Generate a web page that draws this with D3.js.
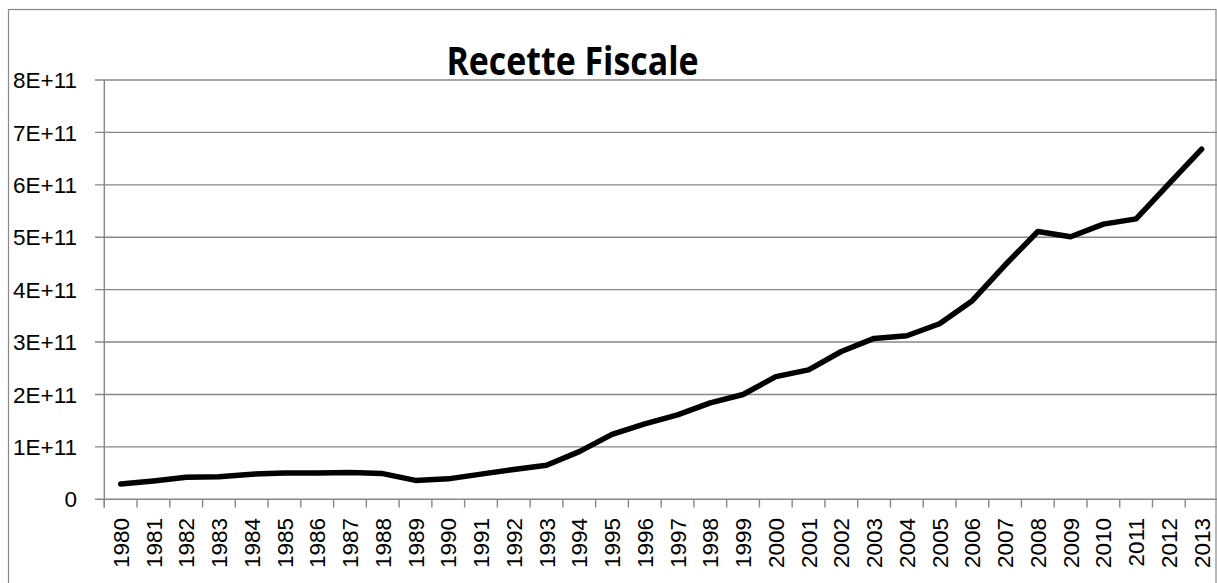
<!DOCTYPE html>
<html>
<head>
<meta charset="utf-8">
<script src="https://cdn.jsdelivr.net/npm/d3@7"></script>
<style>
  html, body { margin: 0; padding: 0; background: #fff; }
  svg { display: block; }
</style>
</head>
<body>
<svg id="chart" width="1217" height="583"></svg>
<script>
const years = [1980,1981,1982,1983,1984,1985,1986,1987,1988,1989,1990,1991,1992,1993,1994,1995,1996,1997,1998,1999,2000,2001,2002,2003,2004,2005,2006,2007,2008,2009,2010,2011,2012,2013];
const recette = [2.9e10,3.5e10,4.2e10,4.3e10,4.8e10,5.0e10,5.0e10,5.1e10,4.9e10,3.6e10,3.9e10,4.8e10,5.7e10,6.5e10,9.1e10,1.24e11,1.44e11,1.61e11,1.84e11,2.0e11,2.34e11,2.47e11,2.82e11,3.07e11,3.12e11,3.35e11,3.79e11,4.47e11,5.11e11,5.01e11,5.25e11,5.35e11,6.02e11,6.68e11];
const yTicks = [0,1e11,2e11,3e11,4e11,5e11,6e11,7e11,8e11];
const title = "Recette Fiscale";

const svg = d3.select("#chart");
const gridColor = "#878787";
const font = "'Liberation Sans', Arial, sans-serif";

// outer chart border
svg.append("rect")
  .attr("x", 8.5).attr("y", 9.5)
  .attr("width", 1207.5).attr("height", 590)
  .attr("fill", "none").attr("stroke", "#888").attr("stroke-width", 1.2);

const x = d3.scaleBand().domain(years).range([104.3, 1218]).paddingInner(0).paddingOuter(0);
const y = d3.scaleLinear().domain([0, 8e11]).range([499.3, 80]);

const fmt = v => v === 0 ? "0" : (v / 1e11) + "E+11";

// gridlines + y tick marks
svg.append("g").selectAll("line").data(yTicks).join("line")
  .attr("x1", 95).attr("x2", 1217)
  .attr("y1", d => y(d)).attr("y2", d => y(d))
  .attr("stroke", gridColor).attr("stroke-width", 1.4);

// y labels
svg.append("g").selectAll("text").data(yTicks).join("text")
  .attr("x", 77).attr("y", d => y(d))
  .attr("dy", "0.36em")
  .attr("text-anchor", "end")
  .attr("font-family", font).attr("font-size", 22.5)
  .attr("fill", "#000")
  .text(fmt);

// vertical axis line
svg.append("line")
  .attr("x1", 104.3).attr("x2", 104.3)
  .attr("y1", y(8e11)).attr("y2", 507.5)
  .attr("stroke", gridColor).attr("stroke-width", 1.4);

// x tick marks at category boundaries
const bounds = years.map(d => x(d)).concat([x(years[years.length - 1]) + x.bandwidth()]);
svg.append("g").selectAll("line").data(bounds).join("line")
  .attr("x1", d => d).attr("x2", d => d)
  .attr("y1", y(0)).attr("y2", 507.5)
  .attr("stroke", gridColor).attr("stroke-width", 1.4);

// x labels (rotated)
svg.append("g").selectAll("text").data(years).join("text")
  .attr("transform", d => `translate(${x(d) + x.bandwidth() / 2},518) rotate(-90)`)
  .attr("dy", "0.36em")
  .attr("text-anchor", "end")
  .attr("font-family", font).attr("font-size", 22.5)
  .attr("fill", "#000")
  .text(d => d);

// line
const line = d3.line()
  .x((d, i) => x(years[i]) + x.bandwidth() / 2)
  .y(d => y(d));
svg.append("path")
  .datum(recette)
  .attr("d", line)
  .attr("fill", "none")
  .attr("stroke", "#000")
  .attr("stroke-width", 5.5)
  .attr("stroke-linejoin", "round")
  .attr("stroke-linecap", "round");

// title
svg.append("text")
  .attr("x", 572.5).attr("y", 75)
  .attr("text-anchor", "middle")
  .attr("font-family", "'Open Sans', " + font)
  .attr("font-weight", "bold")
  .attr("font-size", 40)
  .attr("textLength", 252)
  .attr("lengthAdjust", "spacingAndGlyphs")
  .attr("fill", "#000")
  .text(title);
</script>
</body>
</html>
